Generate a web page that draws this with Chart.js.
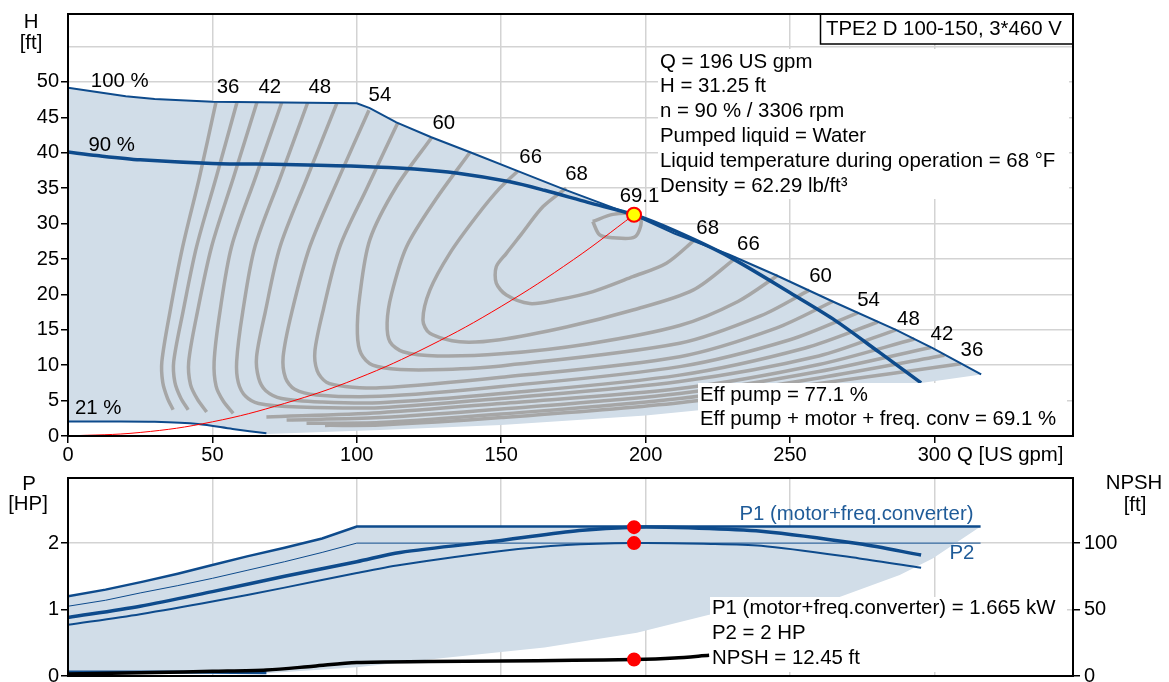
<!DOCTYPE html>
<html>
<head>
<meta charset="utf-8">
<script src="https://cdn.jsdelivr.net/npm/chart.js@4.4.0/dist/chart.umd.min.js"></script>
<style>
  body { margin: 0; background: #fff; }
  #wrap { position: relative; width: 1169px; height: 682px; overflow: hidden; }
  canvas { position: absolute; left: 0; }
  #headChart { top: 0; }
  #powerChart { top: 462px; }
</style>
</head>
<body>
<div id="wrap">
  <canvas id="headChart" width="1169" height="472"></canvas>
  <canvas id="powerChart" width="1169" height="240"></canvas>
</div>
<script>
// ---- tick values ----
const qTicks = [0, 50, 100, 150, 200, 250, 300];
const hTicks = [0, 5, 10, 15, 20, 25, 30, 35, 40, 45, 50, 55];
const pTicks = [0, 1, 2];
const npshTicks = [0, 50, 100];

// ---- head curves, [Q US gpm, H ft] ----
const head100 = [[0,49.2],[10,48.6],[20,48.0],[30,47.6],[50,47.2],[75,47.1],[100,47.0],[104.5,46.3],[113.7,44.3],[125.8,42.2],[139.7,40.0],[155.8,37.4],[172,34.8],[191,31.9],[196,31.2],[210,28.6],[229,25.6],[245.2,22.7],[264.8,19.0],[286.7,15.0],[299.4,12.4],[316.2,8.7]];
const head90 = [[0,40.1],[10,39.6],[25,39.0],[50,38.5],[75,38.35],[100,38.1],[120,37.7],[135,37.1],[153,35.9],[165,34.7],[180,33.0],[196,31.25],[210,29.0],[229,25.3],[251,20.0],[265,16.5],[281,11.8],[295.4,7.5]];
const head21 = [[0,2.05],[15,2.05],[30,2.0],[45,1.7],[57,1.0],[68.7,0.38]];
const headMin = [[68.7,0.3],[108,0.85],[150,1.55],[200,2.9],[250,4.9],[295.4,7.5]];
const systemCurve = [[0,0],[25,0.5],[50,2.0],[75,4.6],[100,8.1],[125,12.7],[150,18.3],[175,24.9],[196,31.25]];
const dutyPoint = [196, 31.25];

// ---- efficiency contours (%), [Q, H] ----
const eff36a = [[51.2,47.1],[45.5,36.5],[39.7,26.7],[35.3,17.5],[32.5,10.5],[32.8,7.6],[34.4,5.4],[36.4,3.7]];
const eff36b = [[89,1.5],[108,1.55],[150,2.6],[211.8,4.7],[260,7.4],[309.2,10.2]];
const eff39a = [[58.5,47.1],[51.3,36.5],[44.5,26.7],[39.8,17.5],[36.6,10.5],[37,7.6],[39,5.4],[41.6,3.7]];
const eff39b = [[82.6,1.8],[108,1.9],[150,3.1],[211.8,5.3],[260,8.2],[303.5,11.4]];
const eff42a = [[65.4,47.1],[57.3,36.5],[49.7,26.7],[44.8,17.5],[41.8,10.5],[42.4,7.3],[44.8,5.2],[48,3.4]];
const eff42b = [[75.7,2.26],[108,2.6],[150,3.8],[211.8,6.0],[260,9.1],[298.8,12.5]];
const eff45a = [[74,47.1],[64.9,36.5],[56.6,26.7],[52.6,17.5],[50.6,10.5],[51.3,7.0],[53.8,4.9],[57.2,3.2]];
const eff45b = [[68.7,2.7],[108,3.3],[150,4.6],[211.8,6.7],[260,10.1],[293.1,13.7]];
const eff48 = [[83,47.1],[73.5,36.5],[64.7,26.7],[60.5,17.5],[58.4,10.5],[59,7.5],[61.5,5.6],[66,4.6],[80,4.1],[108,4.0],[150,5.3],[211.8,7.7],[260,11.3],[286.7,15.0]];
const eff51 = [[93.1,47.0],[82.8,36.5],[73.4,26.7],[68.3,17.5],[65.3,11.2],[66,8.2],[68.5,6.4],[74,5.3],[88,4.8],[108,4.7],[150,6.0],[211.8,8.6],[255,12.4],[280.4,16.1]];
const eff54 = [[104.2,46.0],[93.3,36.0],[83.7,26.7],[77.5,17.5],[74.5,11.2],[75.3,8.2],[78.5,6.6],[86,5.8],[108,5.6],[150,7.0],[211.8,9.8],[250,13.6],[273.5,17.4]];
const eff57 = [[114.2,44.25],[103.5,35],[94.1,26.7],[88.5,18],[85.5,12],[86.3,9.2],[89.5,7.6],[96,7.0],[108,6.8],[150,8.3],[211.8,11.2],[245,15.2],[264.8,19.0]];
const eff60 = [[126,42.2],[113.7,35.2],[104.5,27.7],[101,19.7],[100.2,14.5],[101.5,11.6],[105.5,10.0],[115,9.4],[130,9.4],[150,9.9],[211.8,13.1],[240,17.0],[256.7,20.6]];
const eff63 = [[139.1,40.0],[127.5,33.5],[117.2,26.7],[112,20],[110.5,16],[111.5,13.3],[116,11.9],[128,11.3],[150,11.6],[180,13.0],[211.8,15.6],[232,19.0],[245.8,22.7]];
const eff66 = [[155.7,37.4],[149.5,35.0],[141.4,31.0],[132.2,25.8],[125.3,20.6],[122.9,16.4],[125.3,14.5],[135.6,13.3],[149.5,13.6],[172.6,15.4],[195.6,17.8],[216.4,20.6],[231.4,25.2]];
const eff68 = [[172.5,35.0],[164.5,32.4],[157,28.5],[151.8,25.8],[148.3,23.9],[148.3,21.6],[151.8,19.9],[159.9,18.7],[169.1,19.2],[181.8,20.4],[195.6,22.5],[207.2,24.4],[217,27.7]];
const eff69 = [[181.7,30.3],[184.1,28.4],[188.7,28.0],[196.2,28.1],[198.5,30.3],[196,31.3],[188.7,31.3],[181.7,30.3]];

// ---- power curves, [Q, P HP] ----
const p1Max = [[0,1.2],[13,1.3],[26,1.42],[38,1.54],[50,1.67],[62,1.8],[75,1.93],[88,2.07],[100,2.25],[316,2.25]];
const p2Max = [[0,1.05],[13,1.14],[25,1.25],[38,1.36],[50,1.47],[62,1.59],[75,1.72],[88,1.86],[100,2.0],[316,2.0]];
const p1Duty = [[0,0.88],[25,1.05],[50,1.27],[75,1.5],[100,1.72],[115,1.86],[150,2.04],[177,2.19],[196,2.24],[215,2.23],[240,2.18],[274,1.99],[295.4,1.82]];
const p2Duty = [[0,0.77],[25,0.93],[50,1.12],[75,1.33],[100,1.55],[115,1.67],[150,1.88],[172.6,1.97],[196,2.0],[220,1.99],[240,1.96],[274,1.77],[295.4,1.63]];
const p1Min = [[0,0.06],[35,0.06],[68.7,0.05]];
const powerLow = [[316,2.25],[299.4,1.77],[288,1.52],[266,1.17],[245,1.05],[222,0.92],[197,0.65],[165,0.43],[130,0.27],[100,0.13],[68.7,0.04],[0,0.04]];
// NPSH, [Q, ft]
const npshCurve = [[0,1.5],[30,2.6],[50,3.5],[68.7,4.5],[85,7.4],[100,10.2],[125,10.9],[150,11.3],[175,11.8],[196,12.45],[210,13.6],[222,15.6]];
const dutyP1 = [196, 2.24];
const dutyP2 = [196, 2.0];
const dutyNpsh = [196, 12.45];

const BLUE = '#0e4b8c';
const TEXT_BLUE = '#1f5b98';
const FILL = '#d1dde8';
const GRAY = '#a6a6a6';
const GRID = '#d3d3d3';
const FONT = '20.4px "Liberation Sans", Arial, sans-serif';

Chart.defaults.font.family = '"Liberation Sans", Arial, sans-serif';
Chart.defaults.font.size = 20;
Chart.defaults.color = '#000';

const xy = pts => pts.map(([x, y]) => ({x, y}));

function curve(pts, color, width, order, extra) {
  return Object.assign({
    data: xy(pts), borderColor: color, borderWidth: width, pointRadius: 0,
    fill: false, tension: 0, order: order
  }, extra || {});
}

function dot(pt, bg, border, r, order, extra) {
  return Object.assign({
    data: xy([pt]), showLine: false, pointRadius: r, pointBackgroundColor: bg,
    pointBorderColor: border, pointBorderWidth: 2, order: order
  }, extra || {});
}

function fixedTicks(list) {
  return s => { s.ticks = list.map(v => ({value: v})); };
}

const gridStyle = { color: GRID, lineWidth: 1.5, tickLength: 7, tickColor: '#000', tickWidth: 1.5 };

function text(ctx, s, x, y, align) {
  ctx.textAlign = align || 'left';
  ctx.fillText(s, x, y);
}

// ---- head chart ----
const effCurves = [eff36a, eff36b, eff39a, eff39b, eff42a, eff42b, eff45a, eff45b,
  eff48, eff51, eff54, eff57, eff60, eff63, eff66, eff68, eff69];

const effLabels = [
  ['36', 55.4, 49.2], ['42', 69.9, 49.2], ['48', 87.2, 49.2], ['54', 108, 48.1],
  ['60', 130.1, 44.2], ['66', 160.2, 39.3], ['68', 176.1, 37.0], ['69.1', 197.9, 33.8],
  ['68', 221.5, 29.3], ['66', 235.6, 27.0], ['60', 260.6, 22.6], ['54', 277.2, 19.2],
  ['48', 291, 16.5], ['42', 302.6, 14.3], ['36', 313, 12.1]
];
const speedLabels = [['100 %', 7.9, 50.1], ['90 %', 7.1, 41.0], ['21 %', 2.4, 3.9]];
const infoLines = ['Q = 196 US gpm', 'H = 31.25 ft', 'n = 90 % / 3306 rpm', 'Pumped liquid = Water',
  'Liquid temperature during operation = 68 \u00B0F', 'Density = 62.29 lb/ft\u00B3'];
const effLines = ['Eff pump = 77.1 %', 'Eff pump + motor + freq. conv = 69.1 %'];

const headDecor = {
  id: 'headDecor',
  afterDatasetsDraw(chart) {
    const {ctx, chartArea: a, scales: {x, y}} = chart;
    ctx.save();
    ctx.font = FONT;
    ctx.textBaseline = 'middle';
    ctx.fillStyle = '#000';
    effLabels.forEach(([s, q, h]) => text(ctx, s, x.getPixelForValue(q), y.getPixelForValue(h), 'center'));
    speedLabels.forEach(([s, q, h]) => text(ctx, s, x.getPixelForValue(q), y.getPixelForValue(h), 'left'));

    // info block
    ctx.fillStyle = '#fff';
    ctx.fillRect(658, 49, a.right - 4 - 658, 150);
    ctx.fillRect(698, 383, a.right - 6 - 698, a.bottom - 1 - 383);
    ctx.fillStyle = '#000';
    infoLines.forEach((s, i) => text(ctx, s, 660, 62 + i * 24.8));
    effLines.forEach((s, i) => text(ctx, s, 700, 395 + i * 24.8));

    // title box
    ctx.fillStyle = '#fff';
    ctx.fillRect(820, a.top, a.right - 820, 30);
    ctx.strokeStyle = '#000';
    ctx.lineWidth = 1.5;
    ctx.strokeRect(820.5, a.top, a.right - 820.5, 30);
    ctx.fillStyle = '#000';
    text(ctx, 'TPE2 D 100-150, 3*460 V', 826, a.top + 15.5);

    // axis titles
    text(ctx, 'H', 31, 22, 'center');
    text(ctx, '[ft]', 31, 43, 'center');
    text(ctx, 'Q [US gpm]', 957, 455);

    ctx.lineWidth = 2;
    ctx.strokeRect(a.left, a.top, a.right - a.left, a.bottom - a.top);
    ctx.restore();
  }
};

const headSets = [
  curve([...head100, ...headMin.slice().reverse(), ...head21.slice().reverse()], 'rgba(0,0,0,0)', 0, 20,
    { backgroundColor: FILL, fill: 'shape' }),
  ...effCurves.map(c => curve(c, GRAY, 3.5, 10, { tension: 0.3 })),
  curve(head100, BLUE, 2, 4),
  curve(head90, BLUE, 3.5, 3, { tension: 0.3 }),
  curve(head21, BLUE, 2, 3, { tension: 0.3 }),
  curve(systemCurve, '#ff0000', 1, 2, { tension: 0.4 }),
  dot(dutyPoint, '#ffff00', '#ff0000', 7, 0)
];

new Chart(document.getElementById('headChart'), {
  type: 'line',
  data: { datasets: headSets },
  options: {
    responsive: false, animation: false, events: [],
    layout: { padding: { top: 14, right: 96, left: 0, bottom: 0 } },
    plugins: { legend: { display: false }, tooltip: { enabled: false } },
    scales: {
      x: {
        type: 'linear', min: 0, max: 348,
        afterBuildTicks: fixedTicks(qTicks),
        afterFit: s => { s.height = 36; },
        grid: gridStyle,
        border: { color: '#000', width: 2 },
        ticks: { padding: 0, autoSkip: false, maxRotation: 0 }
      },
      y: {
        type: 'linear', min: 0, max: 59.6,
        afterBuildTicks: fixedTicks(hTicks),
        afterFit: s => { s.width = 68; },
        grid: Object.assign({}, gridStyle, {
          tickColor: c => (c.tick && c.tick.value > 50 ? 'rgba(0,0,0,0)' : '#000')
        }),
        border: { color: '#000', width: 2 },
        ticks: { padding: 2, autoSkip: false, callback: v => (v > 50 ? '' : v) }
      }
    }
  },
  plugins: [headDecor]
});

// ---- power / NPSH chart ----
const powerLines = ['P1 (motor+freq.converter) = 1.665 kW', 'P2 = 2 HP', 'NPSH = 12.45 ft'];

const powerDecor = {
  id: 'powerDecor',
  afterDatasetsDraw(chart) {
    const {ctx, chartArea: a, scales: {x, y}} = chart;
    ctx.save();
    ctx.font = FONT;
    ctx.textBaseline = 'middle';
    ctx.fillStyle = TEXT_BLUE;
    text(ctx, 'P1 (motor+freq.converter)', x.getPixelForValue(232.5), y.getPixelForValue(2.44));
    text(ctx, 'P2', x.getPixelForValue(305.2), y.getPixelForValue(1.84));

    ctx.fillStyle = '#fff';
    ctx.fillRect(710, 135, a.right - 6 - 710, a.bottom - 4 - 135);
    ctx.fillStyle = '#000';
    powerLines.forEach((s, i) => text(ctx, s, 712, 146 + i * 25));

    text(ctx, 'P', 29, 22, 'center');
    text(ctx, '[HP]', 28, 42, 'center');
    text(ctx, 'NPSH', 1134, 21, 'center');
    text(ctx, '[ft]', 1135, 43, 'center');

    ctx.strokeStyle = '#000';
    ctx.lineWidth = 2;
    ctx.strokeRect(a.left, a.top, a.right - a.left, a.bottom - a.top);
    ctx.restore();
  }
};

const powerSets = [
  curve([...p1Max, ...powerLow], 'rgba(0,0,0,0)', 0, 20, { backgroundColor: FILL, fill: 'shape' }),
  curve(p1Max, BLUE, 2.5, 5),
  curve(p2Max, BLUE, 1, 5),
  curve(p1Duty, BLUE, 3.5, 4, { tension: 0.3 }),
  curve(p2Duty, BLUE, 2, 4, { tension: 0.3 }),
  curve(p1Min, BLUE, 3, 4),
  curve(npshCurve, '#000', 3.5, 3, { tension: 0.3, yAxisID: 'y2' }),
  dot(dutyP1, '#ff0000', '#ff0000', 6, 0),
  dot(dutyP2, '#ff0000', '#ff0000', 6, 0),
  dot(dutyNpsh, '#ff0000', '#ff0000', 6, 0, { yAxisID: 'y2' })
];

new Chart(document.getElementById('powerChart'), {
  type: 'line',
  data: { datasets: powerSets },
  options: {
    responsive: false, animation: false, events: [],
    layout: { padding: { top: 13, right: 0, left: 0, bottom: 0 } },
    plugins: { legend: { display: false }, tooltip: { enabled: false } },
    scales: {
      x: {
        type: 'linear', min: 0, max: 348,
        afterBuildTicks: fixedTicks(qTicks),
        afterFit: s => { s.height = 26; },
        grid: Object.assign({}, gridStyle, { drawTicks: false }),
        border: { color: '#000', width: 2 },
        ticks: { display: false }
      },
      y: {
        type: 'linear', min: 0, max: 2.98,
        afterBuildTicks: fixedTicks(pTicks),
        afterFit: s => { s.width = 68; },
        grid: gridStyle,
        border: { color: '#000', width: 2 },
        ticks: { padding: 2, autoSkip: false }
      },
      y2: {
        type: 'linear', position: 'right', min: 0, max: 149,
        afterBuildTicks: fixedTicks(npshTicks),
        afterFit: s => { s.width = 96; },
        grid: Object.assign({}, gridStyle, { drawOnChartArea: false }),
        border: { color: '#000', width: 2 },
        ticks: { padding: 4, autoSkip: false }
      }
    }
  },
  plugins: [powerDecor]
});
</script>
</body>
</html>
